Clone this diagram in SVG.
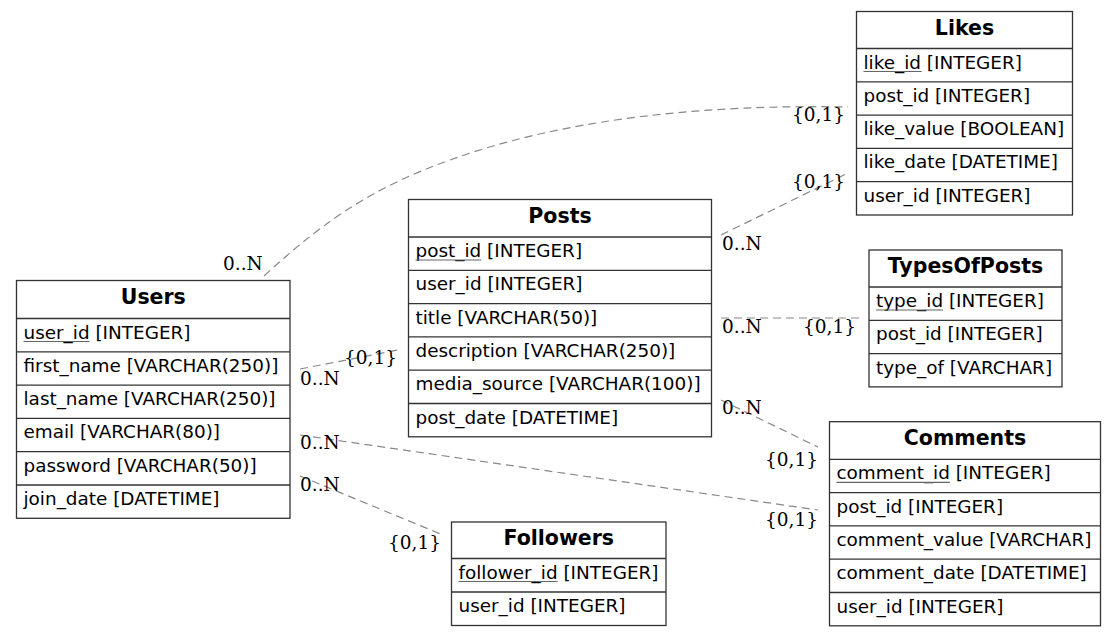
<svg xmlns="http://www.w3.org/2000/svg" width="1116" height="637" viewBox="0 0 1116 637">
  <style>
    .box { fill: #ffffff; stroke: #333333; stroke-width: 1.3; }
    .sep { stroke: #333333; stroke-width: 1.3; }
    .title { font-family: "DejaVu Sans", sans-serif; font-size: 20.5px; font-weight: bold; fill: #000; text-anchor: middle; }
    .field { font-family: "DejaVu Sans", sans-serif; font-size: 18.4px; fill: #000; }
    .key { stroke: #666666; stroke-width: 1.2; }
    .edge { fill: none; stroke: #888888; stroke-width: 1.2; stroke-dasharray: 8 5; }
    .card { font-family: "DejaVu Serif", serif; font-size: 18.5px; fill: #000; }
  </style>
  <rect width="1116" height="637" fill="#ffffff"/>

  <!-- relationships -->
  <g id="connectors">
    <path class="edge" d="M264,276 C330,215 380,185 450,160 C560,120 700,104 848,107"/>
    <path class="edge" d="M721,235 L846,174"/>
    <path class="edge" d="M721,318 L864,318"/>
    <path class="edge" d="M721,400 L818,447"/>
    <path class="edge" d="M300,369 L398,350"/>
    <path class="edge" d="M300,435 L818,510"/>
    <path class="edge" d="M300,476 L443,535"/>
    <text class="card" x="223" y="270">0..N</text>
    <text class="card" x="792" y="121">{0,1}</text>
    <text class="card" x="722" y="250">0..N</text>
    <text class="card" x="792" y="188">{0,1}</text>
    <text class="card" x="722" y="333">0..N</text>
    <text class="card" x="803" y="333">{0,1}</text>
    <text class="card" x="722" y="414">0..N</text>
    <text class="card" x="765" y="466">{0,1}</text>
    <text class="card" x="300" y="385">0..N</text>
    <text class="card" x="344" y="364">{0,1}</text>
    <text class="card" x="300" y="449">0..N</text>
    <text class="card" x="765" y="526">{0,1}</text>
    <text class="card" x="300" y="491">0..N</text>
    <text class="card" x="388" y="549">{0,1}</text>
  </g>

  <!-- Users -->
  <g id="users">
    <rect class="box" x="16.5" y="280.5" width="273.5" height="237.8"/>
    <line class="sep" x1="16.5" y1="318.5" x2="290" y2="318.5"/>
    <line class="sep" x1="16.5" y1="351.8" x2="290" y2="351.8"/>
    <line class="sep" x1="16.5" y1="385.1" x2="290" y2="385.1"/>
    <line class="sep" x1="16.5" y1="418.4" x2="290" y2="418.4"/>
    <line class="sep" x1="16.5" y1="451.7" x2="290" y2="451.7"/>
    <line class="sep" x1="16.5" y1="485" x2="290" y2="485"/>
    <text class="title" x="153.3" y="304">Users</text>
    <text class="field" x="23.5" y="338.5">user_id [INTEGER]</text>
    <line class="key" x1="23.5" y1="341.5" x2="89.6" y2="341.5"/>
    <text class="field" x="23.5" y="371.8">first_name [VARCHAR(250)]</text>
    <text class="field" x="23.5" y="405.1">last_name [VARCHAR(250)]</text>
    <text class="field" x="23.5" y="438.4">email [VARCHAR(80)]</text>
    <text class="field" x="23.5" y="471.7">password  [VARCHAR(50)]</text>
    <text class="field" x="23.5" y="505">join_date [DATETIME]</text>
  </g>

  <!-- Posts -->
  <g id="posts">
    <rect class="box" x="408.5" y="199.5" width="303" height="237.3"/>
    <line class="sep" x1="408.5" y1="237" x2="711.5" y2="237"/>
    <line class="sep" x1="408.5" y1="270.3" x2="711.5" y2="270.3"/>
    <line class="sep" x1="408.5" y1="303.6" x2="711.5" y2="303.6"/>
    <line class="sep" x1="408.5" y1="336.9" x2="711.5" y2="336.9"/>
    <line class="sep" x1="408.5" y1="370.2" x2="711.5" y2="370.2"/>
    <line class="sep" x1="408.5" y1="403.5" x2="711.5" y2="403.5"/>
    <text class="title" x="560" y="222.5">Posts</text>
    <text class="field" x="415.5" y="257">post_id [INTEGER]</text>
    <line class="key" x1="415.5" y1="260" x2="481.2" y2="260"/>
    <text class="field" x="415.5" y="290.3">user_id [INTEGER]</text>
    <text class="field" x="415.5" y="323.6">title [VARCHAR(50)]</text>
    <text class="field" x="415.5" y="356.9">description [VARCHAR(250)]</text>
    <text class="field" x="415.5" y="390.2">media_source [VARCHAR(100)]</text>
    <text class="field" x="415.5" y="423.5">post_date [DATETIME]</text>
  </g>

  <!-- Likes -->
  <g id="likes">
    <rect class="box" x="856.5" y="11.5" width="216" height="203.5"/>
    <line class="sep" x1="856.5" y1="48.5" x2="1072.5" y2="48.5"/>
    <line class="sep" x1="856.5" y1="81.8" x2="1072.5" y2="81.8"/>
    <line class="sep" x1="856.5" y1="115.1" x2="1072.5" y2="115.1"/>
    <line class="sep" x1="856.5" y1="148.4" x2="1072.5" y2="148.4"/>
    <line class="sep" x1="856.5" y1="181.7" x2="1072.5" y2="181.7"/>
    <text class="title" x="964.5" y="34.5">Likes</text>
    <text class="field" x="863.5" y="68.5">like_id [INTEGER]</text>
    <line class="key" x1="863.5" y1="71.5" x2="921.7" y2="71.5"/>
    <text class="field" x="863.5" y="101.8">post_id [INTEGER]</text>
    <text class="field" x="863.5" y="135.1">like_value [BOOLEAN]</text>
    <text class="field" x="863.5" y="168.4">like_date [DATETIME]</text>
    <text class="field" x="863.5" y="201.7">user_id [INTEGER]</text>
  </g>

  <!-- TypesOfPosts -->
  <g id="typesofposts">
    <rect class="box" x="869" y="250" width="193" height="136.9"/>
    <line class="sep" x1="869" y1="287" x2="1062" y2="287"/>
    <line class="sep" x1="869" y1="320.3" x2="1062" y2="320.3"/>
    <line class="sep" x1="869" y1="353.6" x2="1062" y2="353.6"/>
    <text class="title" x="965.5" y="273">TypesOfPosts</text>
    <text class="field" x="876" y="307">type_id [INTEGER]</text>
    <line class="key" x1="876" y1="310" x2="943" y2="310"/>
    <text class="field" x="876" y="340.3">post_id [INTEGER]</text>
    <text class="field" x="876" y="373.6">type_of  [VARCHAR]</text>
  </g>

  <!-- Comments -->
  <g id="comments">
    <rect class="box" x="829.5" y="421.7" width="271" height="204.1"/>
    <line class="sep" x1="829.5" y1="459.3" x2="1100.5" y2="459.3"/>
    <line class="sep" x1="829.5" y1="492.6" x2="1100.5" y2="492.6"/>
    <line class="sep" x1="829.5" y1="525.9" x2="1100.5" y2="525.9"/>
    <line class="sep" x1="829.5" y1="559.2" x2="1100.5" y2="559.2"/>
    <line class="sep" x1="829.5" y1="592.5" x2="1100.5" y2="592.5"/>
    <text class="title" x="965" y="445">Comments</text>
    <text class="field" x="836.5" y="479.3">comment_id [INTEGER]</text>
    <line class="key" x1="836.5" y1="482.3" x2="949.9" y2="482.3"/>
    <text class="field" x="836.5" y="512.6">post_id [INTEGER]</text>
    <text class="field" x="836.5" y="545.9">comment_value [VARCHAR]</text>
    <text class="field" x="836.5" y="579.2">comment_date [DATETIME]</text>
    <text class="field" x="836.5" y="612.5">user_id [INTEGER]</text>
  </g>

  <!-- Followers -->
  <g id="followers">
    <rect class="box" x="451.5" y="522" width="214.5" height="103.5"/>
    <line class="sep" x1="451.5" y1="558.5" x2="666" y2="558.5"/>
    <line class="sep" x1="451.5" y1="592" x2="666" y2="592"/>
    <text class="title" x="558.8" y="545">Followers</text>
    <text class="field" x="458.5" y="578.5">follower_id [INTEGER]</text>
    <line class="key" x1="458.5" y1="581.5" x2="557.6" y2="581.5"/>
    <text class="field" x="458.5" y="611.8">user_id [INTEGER]</text>
  </g>
</svg>
